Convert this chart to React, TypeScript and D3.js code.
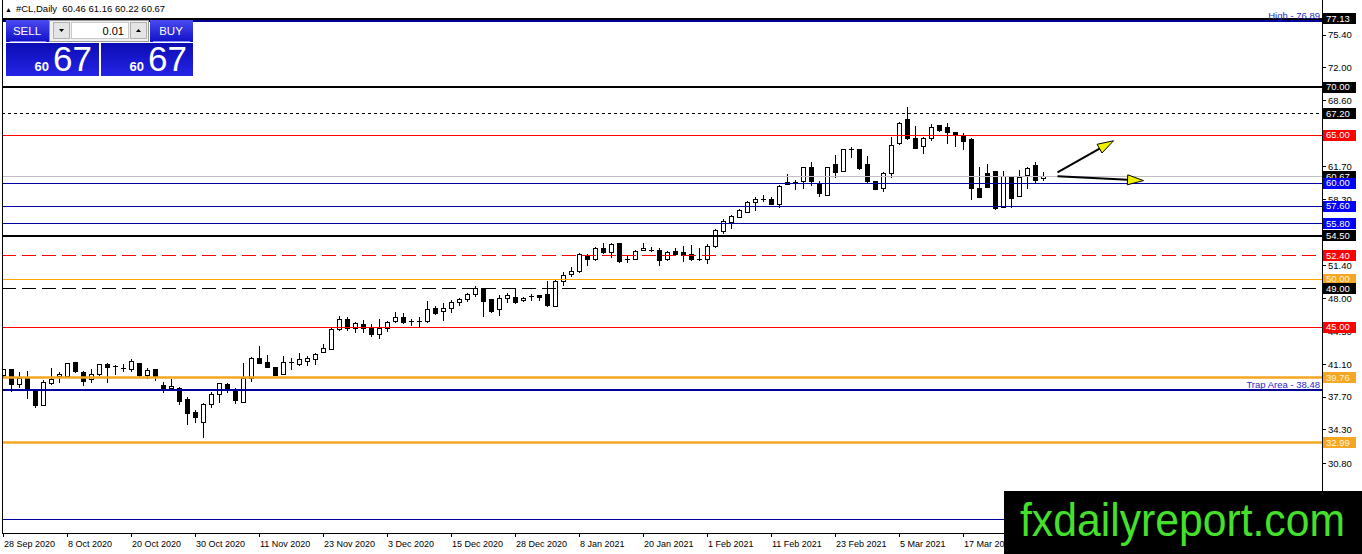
import * as d3 from 'd3'

// ---- data ----
const symbol = '#CL,Daily'
const lastQuote = [60.46, 61.16, 60.22, 60.67]
const bidBig = '67'
const bidSmall = '60'
const lotSize = '0.01'

const opens = [
  40.0, 40.53, 39.03, 39.59, 38.51, 36.81, 39.14, 39.83, 39.83, 41.29,
  40.28, 39.48, 40.07, 41.12, 40.87, 40.66, 40.59, 41.15, 39.97, 40.53,
  38.86, 38.55, 38.62, 37.47, 36.08, 35.07, 36.95, 37.99, 39.03, 38.44,
  37.16, 39.59, 41.67, 41.32, 40.8, 40.07, 41.32, 41.12, 41.39, 41.57,
  42.33, 42.69, 44.77, 45.74, 44.87, 45.29, 44.94, 44.25, 44.87, 45.57,
  46.02, 45.57, 45.57, 45.57, 46.89, 46.61, 46.96, 47.55, 47.82, 48.35,
  49.04, 47.82, 46.78, 47.93, 48.1, 47.72, 48.17, 48.31, 48.35, 47.18,
  49.79, 50.48, 50.76, 52.5, 52.04, 53.19, 52.74, 53.71, 51.98, 52.04,
  52.95, 52.94, 53.02, 52.08, 52.91, 52.74, 52.6, 52.03, 51.98, 53.43,
  54.93, 55.9, 56.38, 56.94, 57.98, 58.32, 58.29, 57.81, 60.1, 60.06,
  60.14, 61.64, 59.97, 58.75, 61.88, 61.25, 63.43, 63.44, 61.88, 60.14,
  59.45, 61.01, 64.14, 66.64, 64.66, 63.79, 64.59, 65.94, 65.8, 65.28,
  65.0, 64.48, 59.45, 60.94, 61.18, 57.47, 60.59, 58.58, 60.77, 61.84,
  60.46,
]
const highs = [
  40.6, 40.59, 40.28, 40.42, 38.55, 39.48, 40.7, 40.28, 41.22, 41.39,
  40.46, 40.59, 41.15, 41.22, 41.05, 41.15, 41.64, 41.22, 40.7, 40.59,
  39.31, 39.55, 38.79, 37.68, 36.36, 37.12, 38.27, 39.21, 39.21, 38.62,
  41.29, 41.84, 43.02, 42.09, 40.87, 41.98, 41.74, 42.33, 41.98, 42.26,
  43.23, 44.87, 46.16, 46.02, 45.57, 45.74, 45.32, 45.81, 45.67, 46.54,
  46.44, 45.81, 46.09, 47.72, 47.2, 47.48, 47.82, 48.0, 48.59, 49.28,
  49.11, 47.89, 48.35, 48.52, 48.94, 48.17, 48.45, 48.35, 49.76, 49.89,
  50.76, 51.28, 52.67, 52.6, 53.36, 53.78, 53.71, 53.78, 52.39, 53.02,
  53.71, 53.29, 53.19, 52.91, 53.19, 53.43, 53.54, 53.19, 53.64, 55.17,
  56.21, 56.66, 57.25, 58.16, 58.57, 58.75, 58.57, 59.79, 60.93, 60.31,
  61.71, 62.23, 60.25, 61.71, 62.92, 63.51, 63.79, 63.51, 62.82, 60.25,
  61.18, 64.76, 66.39, 67.96, 65.94, 64.76, 66.15, 66.05, 66.29, 65.35,
  65.25, 64.66, 61.71, 61.98, 61.29, 61.25, 60.66, 61.36, 61.71, 62.23,
  61.16,
]
const lows = [
  39.7, 38.27, 38.62, 37.47, 36.53, 36.75, 38.96, 39.14, 39.8, 40.25,
  38.86, 39.21, 39.9, 39.14, 40.0, 40.35, 40.35, 39.83, 39.55, 39.41,
  38.16, 38.44, 36.88, 34.8, 34.97, 33.48, 36.53, 37.12, 38.16, 36.95,
  37.05, 39.31, 41.15, 40.7, 39.9, 40.0, 40.53, 40.94, 40.94, 41.05,
  42.26, 42.62, 44.63, 44.63, 44.42, 44.35, 44.01, 43.76, 44.53, 45.39,
  45.32, 45.12, 44.98, 45.39, 46.26, 45.67, 46.44, 47.2, 47.65, 48.17,
  46.02, 46.51, 46.16, 47.48, 47.37, 47.62, 47.76, 47.76, 47.05, 47.11,
  49.27, 50.24, 50.66, 51.35, 51.91, 52.6, 52.15, 51.7, 51.63, 51.98,
  52.91, 52.77, 51.35, 51.91, 52.5, 51.8, 51.91, 51.91, 51.52, 53.19,
  54.68, 55.17, 56.32, 56.84, 57.11, 58.05, 57.7, 57.36, 59.79, 59.27,
  59.34, 59.69, 58.51, 58.65, 60.49, 61.18, 62.57, 61.36, 59.9, 59.27,
  59.1, 60.49, 63.96, 64.48, 63.55, 63.03, 64.41, 65.35, 64.03, 63.72,
  63.44, 58.23, 58.41, 59.45, 57.19, 57.37, 57.37, 58.51, 59.34, 59.9,
  60.22,
]
const closes = [
  40.53, 39.03, 39.66, 38.51, 36.81, 39.24, 39.55, 40.07, 41.15, 40.35,
  39.31, 40.07, 41.05, 40.8, 40.9, 40.68, 41.39, 39.9, 40.46, 39.83,
  38.44, 38.79, 37.23, 35.94, 35.59, 36.95, 38.02, 39.07, 38.55, 37.3,
  39.59, 41.74, 41.22, 40.8, 39.94, 41.32, 41.29, 41.57, 41.67, 42.09,
  42.78, 44.7, 45.81, 44.87, 45.39, 44.87, 44.25, 44.87, 45.5, 46.02,
  45.46, 45.6, 45.62, 46.85, 46.37, 46.96, 47.55, 47.82, 48.35, 49.04,
  47.65, 46.61, 48.0, 48.24, 47.55, 48.0, 48.2, 48.1, 47.24, 49.72,
  50.34, 50.83, 52.6, 51.98, 53.19, 52.74, 53.61, 51.8, 52.0, 52.91,
  53.19, 52.96, 51.91, 52.77, 52.6, 52.5, 52.04, 52.06, 53.43, 55.03,
  55.97, 56.49, 57.11, 57.98, 58.29, 58.34, 57.77, 59.68, 59.86, 60.08,
  61.64, 60.14, 58.93, 61.64, 61.08, 63.44, 63.46, 61.46, 60.14, 59.34,
  61.01, 63.89, 66.22, 64.59, 63.62, 64.66, 65.8, 65.46, 65.25, 64.9,
  64.31, 59.45, 58.51, 59.55, 57.37, 60.66, 58.41, 60.59, 61.53, 60.25,
  60.67,
]

const dateLabels = [
  '28 Sep 2020', '8 Oct 2020', '20 Oct 2020', '30 Oct 2020', '11 Nov 2020',
  '23 Nov 2020', '3 Dec 2020', '15 Dec 2020', '28 Dec 2020', '8 Jan 2021',
  '20 Jan 2021', '1 Feb 2021', '11 Feb 2021', '23 Feb 2021', '5 Mar 2021',
  '17 Mar 2021',
]
const barsPerLabel = 8

// price scale ticks that show beside the level labels
const priceTicks = [75.4, 72.0, 68.6, 61.7, 58.3, 51.4, 48.0, 44.5, 41.1, 37.7, 34.3, 30.8]

// horizontal levels drawn on the chart
const levelPrices = [77.13, 76.89, 70.0, 67.2, 65.0, 60.67, 60.0, 57.6, 55.8, 54.5, 52.4, 50.0, 49.0, 45.0, 39.76, 38.48, 32.99, 24.95]
const levelKinds = ['black2', 'navy2', 'black2', 'dotted', 'red', 'bid', 'navy', 'navy', 'navy', 'black2', 'redDash', 'orange', 'blackDash', 'red', 'orange2', 'navy2', 'orange2', 'navyPlain']
const levelNotes = ['', 'High - 76.89', '', '', '', '', '', '', '', '', '', '', '', '', '', 'Trap Area - 38.48', '', '']

// trend arrows as [bar, price]
const arrowFrom = [[131.75, 61.1], [131.75, 60.7]]
const arrowTo = [[138.75, 64.4], [142.5, 60.25]]

const watermark = 'fxdailyreport.com'

// ---- styles ----
const kindStyle: Record<string, { stroke: string; width: number; dash?: string; label?: string; text?: string }> = {
  black2: { stroke: '#000', width: 2, label: '#000' },
  navy2: { stroke: '#00009c', width: 2 },
  dotted: { stroke: '#000', width: 1, dash: '3,3', label: '#000' },
  red: { stroke: '#ff0000', width: 1, label: '#ff0000' },
  bid: { stroke: '#c0c0c0', width: 1, label: '#000' },
  navy: { stroke: '#0000a0', width: 1, label: '#0000ff' },
  navyPlain: { stroke: '#0000a0', width: 1 },
  redDash: { stroke: '#ff0000', width: 1, dash: '14,6', label: '#ff0000' },
  orange: { stroke: '#ffa500', width: 1, label: '#f5a623', text: '#fff4dc' },
  blackDash: { stroke: '#000', width: 1, dash: '14,6', label: '#000' },
  orange2: { stroke: '#f5a623', width: 2.5, label: '#f5a623', text: '#fff4dc' },
}

const W = 1362
const H = 554
const plotLeft = 2
const plotRight = 1322
const plotBottom = 533
const font = "'Liberation Sans', Arial, sans-serif"

// put a line of the given width on whole pixels
const snap = (v: number, w: number) => (Math.round(w) % 2 === 1 ? Math.round(v - 0.5) + 0.5 : Math.round(v))

export default function App() {
  const x = d3.scaleLinear().domain([0, opens.length - 1]).range([3.5, 3.5 + 8 * (opens.length - 1)])
  const y = d3.scaleLinear().domain([70, 60]).range([87, 183])

  const bodyHalf = 2

  const arrowHead = (fx: number, fy: number, tx: number, ty: number) => {
    const a = Math.atan2(ty - fy, tx - fx)
    const len = 16
    const hw = 5
    const bx = tx - len * Math.cos(a)
    const by = ty - len * Math.sin(a)
    const px = -Math.sin(a) * hw
    const py = Math.cos(a) * hw
    return { line: [bx, by], poly: `${tx},${ty} ${bx + px},${by + py} ${bx - px},${by - py}` }
  }

  return (
    <svg width={W} height={H} style={{ position: 'absolute', left: 0, top: 0, background: '#fff' }} fontFamily={font}>
      <defs>
        <clipPath id="plot">
          <rect x={plotLeft} y={0} width={plotRight - plotLeft} height={plotBottom} />
        </clipPath>
        <linearGradient id="btnTop" x1="0" y1="0" x2="0" y2="1">
          <stop offset="0" stopColor="#4a4af0" />
          <stop offset="1" stopColor="#1010c8" />
        </linearGradient>
        <linearGradient id="btnBig" x1="0" y1="0" x2="0" y2="1">
          <stop offset="0" stopColor="#0c0cb4" />
          <stop offset="1" stopColor="#2424e6" />
        </linearGradient>
      </defs>

      {/* candles */}
      <g clipPath="url(#plot)" shapeRendering="crispEdges">
        {opens.map((o, i) => {
          const c = closes[i]
          const cx = x(i)
          const yt = y(Math.max(o, c))
          const yb = y(Math.min(o, c))
          const up = c >= o
          return (
            <g key={i}>
              <line x1={cx} x2={cx} y1={y(highs[i])} y2={y(lows[i])} stroke="#000" strokeWidth={1} />
              {yb - yt < 1.5 ? (
                <line x1={cx - bodyHalf - 0.5} x2={cx + bodyHalf + 0.5} y1={snap((yt + yb) / 2, 1)} y2={snap((yt + yb) / 2, 1)} stroke="#000" strokeWidth={1} />
              ) : (
                <rect x={cx - bodyHalf} y={yt} width={bodyHalf * 2} height={yb - yt} fill={up ? '#fff' : '#000'} stroke="#000" strokeWidth={1} />
              )}
            </g>
          )
        })}
      </g>

      {/* horizontal levels */}
      <g clipPath="url(#plot)">
        {levelPrices.map((p, i) => {
          const s = kindStyle[levelKinds[i]]
          const ly = snap(y(p), s.width)
          return (
            <line key={i} x1={plotLeft} x2={plotRight} y1={ly} y2={ly} stroke={s.stroke} strokeWidth={s.width} strokeDasharray={s.dash} />
          )
        })}
        {levelPrices.map((p, i) =>
          levelNotes[i] ? (
            <text key={i} x={plotRight - 2} y={y(p) - 2} textAnchor="end" fontSize={9.5} fill="#2a2ad0">
              {levelNotes[i]}
            </text>
          ) : null,
        )}
      </g>

      {/* trend arrows */}
      {arrowFrom.map((f, i) => {
        const fx = x(f[0])
        const fy = y(f[1])
        const tx = x(arrowTo[i][0])
        const ty = y(arrowTo[i][1])
        const h = arrowHead(fx, fy, tx, ty)
        return (
          <g key={i}>
            <line x1={fx} y1={fy} x2={h.line[0]} y2={h.line[1]} stroke="#000" strokeWidth={2} />
            <polygon points={h.poly} fill="#f0f000" stroke="#000" strokeWidth={1} />
          </g>
        )
      })}

      {/* frame */}
      <g shapeRendering="crispEdges">
        <line x1={plotLeft} x2={plotLeft} y1={0} y2={plotBottom} stroke="#000" />
        <line x1={plotRight} x2={plotRight} y1={0} y2={plotBottom} stroke="#000" />
        <line x1={plotLeft} x2={plotRight} y1={plotBottom} y2={plotBottom} stroke="#000" />
      </g>

      {/* price axis */}
      <g fontSize={9.5}>
        {priceTicks.map((t) => (
          <g key={t}>
            <line x1={plotRight} x2={plotRight + 4} y1={snap(y(t), 1)} y2={snap(y(t), 1)} stroke="#000" />
            <text x={plotRight + 6} y={y(t)} dy="0.35em" fill="#000">
              {t.toFixed(2)}
            </text>
          </g>
        ))}
        {levelPrices.map((p, i) => {
          const s = kindStyle[levelKinds[i]]
          if (!s.label) return null
          return (
            <g key={i}>
              <rect x={plotRight + 1} y={Math.round(y(p) - 5.5)} width={33} height={11} fill={s.label} />
              <text x={plotRight + 4} y={y(p)} dy="0.36em" fill={s.text || '#fff'}>
                {p.toFixed(2)}
              </text>
            </g>
          )
        })}
      </g>

      {/* time axis */}
      <g fontSize={9}>
        {dateLabels.map((d, k) => {
          const tx = x(k * barsPerLabel)
          return (
            <g key={d}>
              <line x1={tx} x2={tx} y1={plotBottom} y2={plotBottom + 4} stroke="#000" shapeRendering="crispEdges" />
              <text x={tx + 0.5} y={547} fill="#000">
                {d}
              </text>
            </g>
          )
        })}
      </g>

      {/* header */}
      <text x={5} y={12} fontSize={9.5} fill="#000">
        <tspan fontSize={7}>▲</tspan>
        <tspan dx={4}>{symbol}</tspan>
        <tspan dx={5}>{lastQuote.map((v) => v.toFixed(2)).join(' ')}</tspan>
      </text>

      {/* one-click trading panel */}
      <g shapeRendering="crispEdges">
        <rect x={6} y={20} width={43} height={22} fill="url(#btnTop)" />
        <rect x={150} y={20} width={43} height={22} fill="url(#btnTop)" />
        <line x1={10} x2={46} y1={41.5} y2={41.5} stroke="#8a8aff" />
        <line x1={153} x2={190} y1={41.5} y2={41.5} stroke="#8a8aff" />
        <rect x={49.5} y={20.5} width={99} height={21} fill="#f0f0f0" stroke="#9a9a9a" />
        <rect x={53.5} y={22.5} width={16} height={16} fill="#e4e4e4" stroke="#b0b0b0" />
        <rect x={71.5} y={22.5} width={57} height={16} fill="#fff" stroke="#c8c8c8" />
        <rect x={130.5} y={22.5} width={16} height={16} fill="#e4e4e4" stroke="#b0b0b0" />
        <rect x={6} y={43} width={93} height={33} fill="url(#btnBig)" />
        <rect x={101} y={43} width={92} height={33} fill="url(#btnBig)" />
      </g>
      <polygon points="59,29 64,29 61.5,32" fill="#000" />
      <polygon points="136,32 141,32 138.5,29" fill="#000" />
      <text x={27} y={35} textAnchor="middle" fontSize={11.5} fill="#fff">SELL</text>
      <text x={171} y={35} textAnchor="middle" fontSize={11.5} fill="#fff">BUY</text>
      <text x={124} y={34.5} textAnchor="end" fontSize={11} fill="#000">{lotSize}</text>
      <text x={49} y={71} textAnchor="end" fontSize={13} fontWeight="bold" fill="#fff">{bidSmall}</text>
      <text x={53} y={71} fontSize={35} fill="#fff">{bidBig}</text>
      <text x={144} y={71} textAnchor="end" fontSize={13} fontWeight="bold" fill="#fff">{bidSmall}</text>
      <text x={148} y={71} fontSize={35} fill="#fff">{bidBig}</text>

      {/* watermark */}
      <rect x={1004} y={491} width={W - 1004} height={H - 491} fill="#000" />
      <text x={1020} y={536} fontSize={46} fill="#44e02a" textLength={325} lengthAdjust="spacingAndGlyphs">
        {watermark}
      </text>
    </svg>
  )
}
